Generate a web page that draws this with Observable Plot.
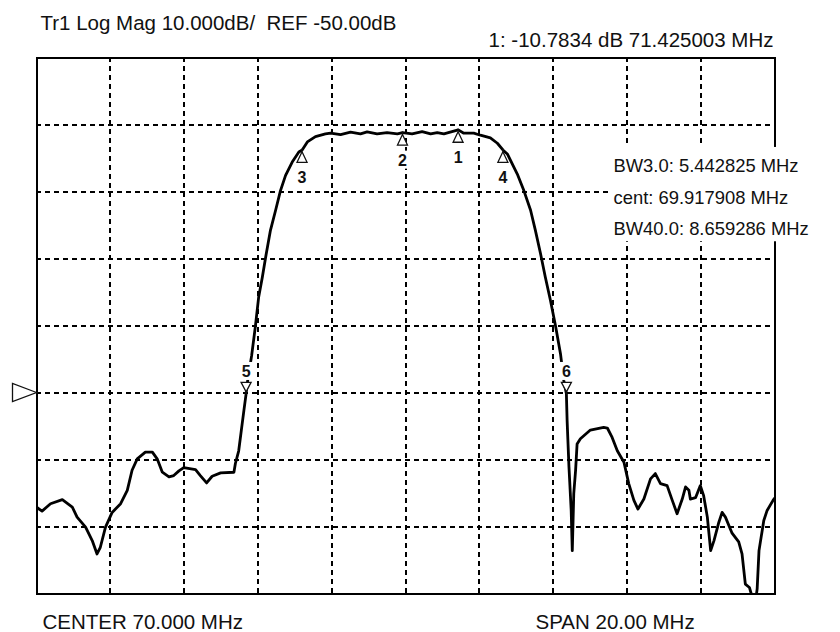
<!DOCTYPE html>
<html>
<head>
<meta charset="utf-8">
<script src="https://cdn.jsdelivr.net/npm/d3@7"></script>
<script src="https://cdn.jsdelivr.net/npm/@observablehq/plot@0.6"></script>
<style>
  html, body { margin: 0; padding: 0; background: #fff; }
  svg text { white-space: pre; }
</style>
</head>
<body>
<div id="chart"></div>
<script>
// ---- data ----
const headerText = "Tr1 Log Mag 10.000dB/  REF -50.00dB";
const readoutText = "1: -10.7834 dB 71.425003 MHz";
const centerText = "CENTER 70.000 MHz";
const spanText = "SPAN 20.00 MHz";
const bwLines = ["BW3.0: 5.442825 MHz", "cent: 69.917908 MHz", "BW40.0: 8.659286 MHz"];

const freqDomain = [60, 80];      // MHz (center 70, span 20)
const levelDomain = [-80, 0];     // dB (REF -50, 10 dB/div)
const refLevel = -50;
const gridFreqs = [62, 64, 66, 68, 70, 72, 74, 76, 78];
const gridLevels = [-10, -20, -30, -40, -50, -60, -70];

const traceFreq = [
  60.00, 60.02, 60.15, 60.38, 60.70, 60.97, 61.10, 61.33, 61.51, 61.64,
  61.73, 61.87, 62.05, 62.28, 62.46, 62.59, 62.73, 62.95, 63.14, 63.27,
  63.41, 63.59, 63.72, 63.86, 63.99, 64.31, 64.44, 64.61, 64.76, 64.99,
  65.35, 65.39, 65.48, 65.55, 65.62, 65.68, 65.71, 65.83, 65.93, 66.02,
  66.12, 66.21, 66.34, 66.48, 66.61, 66.75, 66.93, 67.11, 67.20, 67.34,
  67.56, 67.83, 67.97, 68.24, 68.51, 68.78, 68.96, 69.23, 69.50, 69.78,
  69.92, 70.18, 70.45, 70.68, 70.86, 71.04, 71.43, 71.58, 71.85, 72.03,
  72.30, 72.49, 72.64, 72.76, 73.03, 73.21, 73.39, 73.52, 73.66, 73.79,
  73.93, 74.07, 74.20, 74.29, 74.36, 74.38, 74.40, 74.43, 74.49, 74.52,
  74.56, 74.61, 74.65, 74.74, 75.01, 75.37, 75.47, 75.60, 75.74, 75.92,
  76.05, 76.19, 76.30, 76.46, 76.64, 76.77, 76.91, 77.09, 77.23, 77.36,
  77.50, 77.59, 77.68, 77.72, 77.86, 77.99, 78.08, 78.18, 78.27, 78.36,
  78.49, 78.58, 78.67, 78.85, 79.03, 79.12, 79.21, 79.32, 79.40, 79.50,
  79.53, 79.58, 79.71, 79.80, 79.96, 80.00
];
const traceDb = [
  -67.0, -67.2, -67.7, -66.6, -66.0, -67.1, -68.6, -70.1, -72.1, -74.1,
  -73.1, -70.1, -67.9, -66.6, -64.6, -61.6, -59.9, -58.9, -58.9, -59.9,
  -61.9, -62.6, -62.4, -61.7, -61.2, -61.5, -62.4, -63.5, -62.5, -62.0,
  -61.9, -60.6, -58.7, -55.7, -52.7, -50.2, -48.7, -44.5, -40.2, -35.8,
  -32.8, -29.8, -25.8, -22.8, -19.9, -17.6, -15.6, -14.1, -13.8, -12.6,
  -11.8, -11.4, -11.3, -11.5, -11.15, -11.4, -11.1, -11.4, -11.2, -11.4,
  -11.2, -11.4, -11.05, -11.4, -11.2, -11.4, -10.8, -11.3, -11.3, -11.6,
  -12.0, -12.8, -13.8, -14.4, -17.4, -19.9, -22.8, -25.8, -29.3, -32.8,
  -36.3, -40.2, -44.2, -48.2, -50.2, -54.2, -57.0, -61.1, -67.6, -73.6,
  -65.1, -61.6, -57.7, -56.9, -55.6, -55.2, -55.3, -56.7, -58.7, -60.4,
  -63.6, -66.1, -67.4, -65.9, -62.9, -62.1, -63.6, -63.9, -66.1, -68.1,
  -65.9, -64.1, -64.6, -65.9, -65.7, -63.9, -65.4, -68.6, -73.6, -72.1,
  -69.4, -67.9, -68.6, -71.0, -72.3, -74.1, -78.6, -79.1, -80.6, -80.6,
  -79.3, -73.6, -69.1, -67.6, -66.1, -65.8
];

const markerIds = ["1", "2", "3", "4", "5", "6"];
const markerFreq = [71.425, 69.918, 67.196, 72.639, 65.68, 74.36];
const markerDb = [-10.78, -11.2, -13.78, -13.78, -50.2, -50.2];
const markerDir = ["up", "up", "up", "up", "down", "down"];

// ---- build tables ----
const trace = traceFreq.map((f, i) => ({f, db: traceDb[i]}));
const markers = markerIds.map((id, i) => ({id, f: markerFreq[i], db: markerDb[i], dir: markerDir[i]}));
const upMarkers = markers.filter(d => d.dir === "up");
const downMarkers = markers.filter(d => d.dir === "down");

// ---- custom symbols ----
const upTriangle = {draw(ctx) {
  ctx.moveTo(0, -1); ctx.lineTo(0, 2);
  ctx.moveTo(0, 2); ctx.lineTo(5, 12.5); ctx.lineTo(-5, 12.5); ctx.closePath();
}};
const downTriangle = {draw(ctx) {
  ctx.moveTo(0, 1); ctx.lineTo(0, -2);
  ctx.moveTo(0, -2); ctx.lineTo(5, -11.5); ctx.lineTo(-5, -11.5); ctx.closePath();
}};
const refTriangle = {draw(ctx) {
  ctx.moveTo(0, 0); ctx.lineTo(-24, -9); ctx.lineTo(-24, 9); ctx.closePath();
}};

const font = "'Liberation Sans', Arial, sans-serif";
const dash = "5,4";

const plot = Plot.plot({
  width: 840,
  height: 632,
  marginLeft: 36,
  marginRight: 66,
  marginTop: 57,
  marginBottom: 39,
  style: {fontFamily: font, background: "white", color: "#111", overflow: "visible"},
  x: {domain: freqDomain, axis: null},
  y: {domain: levelDomain, axis: null},
  marks: [
    Plot.ruleX(gridFreqs, {stroke: "#000", strokeWidth: 2, strokeDasharray: dash, strokeOpacity: 1, shapeRendering: "crispEdges"}),
    Plot.ruleY(gridLevels, {stroke: "#000", strokeWidth: 2, strokeDasharray: dash, strokeOpacity: 1, shapeRendering: "crispEdges"}),
    Plot.line(trace, {x: "f", y: "db", stroke: "#000", strokeWidth: 2.8, clip: true, strokeLinejoin: "round"}),
    Plot.frame({stroke: "#000", strokeWidth: 2, shapeRendering: "crispEdges"}),
    Plot.dot(upMarkers, {x: "f", y: "db", symbol: upTriangle, fill: "white", stroke: "#111", strokeWidth: 1.3}),
    Plot.dot(downMarkers, {x: "f", y: "db", symbol: downTriangle, fill: "white", stroke: "#111", strokeWidth: 1.3}),
    Plot.text(upMarkers, {x: "f", y: "db", text: "id", dy: 28, fontSize: 16, fontWeight: "bold", fill: "#111", lineAnchor: "middle", ariaDescription: "bg-label"}),
    Plot.text(downMarkers, {x: "f", y: "db", text: "id", dy: -22, fontSize: 16, fontWeight: "bold", fill: "#111", lineAnchor: "middle", ariaDescription: "bg-label"}),
    Plot.text([bwLines.join("\n")], {frameAnchor: "top-right", textAnchor: "start", lineAnchor: "top", dx: -161, dy: 92, fontSize: 18.4, lineHeight: 1.72, fill: "#111", ariaDescription: "bg-block"}),
    Plot.dot([refLevel], {y: d => d, frameAnchor: "left", symbol: refTriangle, fill: "white", stroke: "#111", strokeWidth: 1.3}),
    Plot.text([headerText], {frameAnchor: "top-left", textAnchor: "start", lineAnchor: "bottom", dx: 4, dy: -28, fontSize: 20.5, fill: "#111"}),
    Plot.text([readoutText], {frameAnchor: "top-right", textAnchor: "end", lineAnchor: "bottom", dx: -1, dy: -11, fontSize: 20.5, fill: "#111"}),
    Plot.text([centerText], {frameAnchor: "bottom-left", textAnchor: "start", lineAnchor: "bottom", dx: 6, dy: 35, fontSize: 20.5, fill: "#111"}),
    Plot.text([spanText], {frameAnchor: "bottom-right", textAnchor: "start", lineAnchor: "bottom", dx: -239, dy: 35, fontSize: 20.5, fill: "#111"})
  ]
});

document.getElementById("chart").appendChild(plot);

// white boxes behind labelled text (as the analyzer draws them)
function addBackgrounds(selector, pad) {
  plot.querySelectorAll(selector + " text").forEach(t => {
    const b = t.getBBox();
    const r = document.createElementNS("http://www.w3.org/2000/svg", "rect");
    r.setAttribute("x", b.x - pad.left);
    r.setAttribute("y", b.y - pad.top);
    r.setAttribute("width", b.width + pad.left + pad.right);
    r.setAttribute("height", b.height + pad.top + pad.bottom);
    r.setAttribute("fill", "white");
    r.setAttribute("stroke", "none");
    const tr = t.getAttribute("transform");
    if (tr) r.setAttribute("transform", tr);
    t.parentNode.insertBefore(r, t);
  });
}
addBackgrounds('g[aria-description="bg-label"]', {left: 2, right: 2, top: 1, bottom: 0});
addBackgrounds('g[aria-description="bg-block"]', {left: 5, right: 4, top: 8, bottom: 2});
</script>
</body>
</html>
